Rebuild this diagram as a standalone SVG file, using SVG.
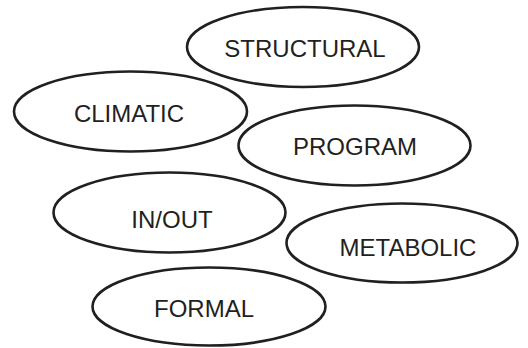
<svg xmlns="http://www.w3.org/2000/svg" width="528" height="348" viewBox="0 0 528 348">
<style>
.n ellipse{fill:#fff;stroke:#231f20;stroke-width:2.6}
.n text{font-family:"Liberation Sans",Arial,sans-serif;font-size:24px;fill:#231f20;text-anchor:middle}
</style>
<rect width="528" height="348" fill="#fff"/>
<g id="connectors"/>
<g id="structural" class="n"><ellipse cx="303" cy="47" rx="116" ry="40"/><text x="305" y="57">STRUCTURAL</text></g>
<g id="climatic" class="n"><ellipse cx="130.5" cy="111.5" rx="116.5" ry="40"/><text x="129" y="122">CLIMATIC</text></g>
<g id="program" class="n"><ellipse cx="354.5" cy="145.5" rx="116" ry="40"/><text x="355" y="155">PROGRAM</text></g>
<g id="inout" class="n"><ellipse cx="169.5" cy="212.5" rx="116" ry="40"/><text x="172" y="228">IN/OUT</text></g>
<g id="metabolic" class="n"><ellipse cx="402" cy="243" rx="115.5" ry="39.5"/><text x="408" y="256">METABOLIC</text></g>
<g id="formal" class="n"><ellipse cx="209" cy="306.5" rx="116.5" ry="39"/><text x="204" y="317">FORMAL</text></g>
</svg>
